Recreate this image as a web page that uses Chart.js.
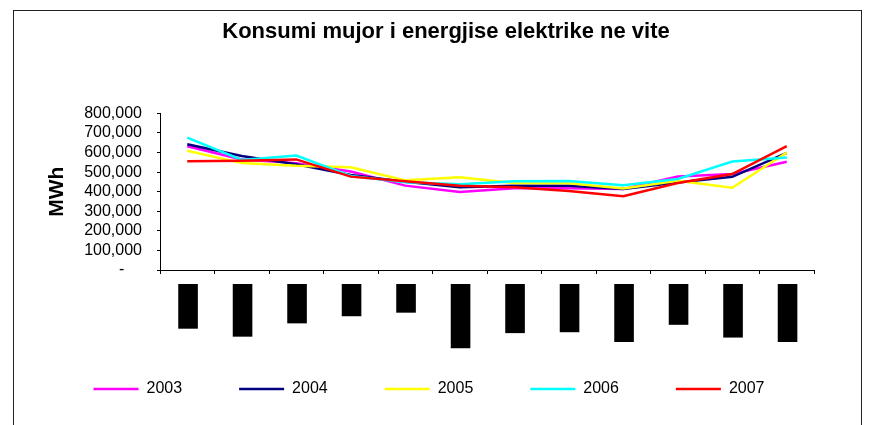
<!DOCTYPE html>
<html>
<head>
<meta charset="utf-8">
<script src="https://cdn.jsdelivr.net/npm/chart.js@4"></script>
<style>
  html, body { margin: 0; padding: 0; background: #fff; overflow: hidden; width: 871px; height: 425px; }
  #frame { position: absolute; left: 13px; top: 10px; width: 849px; height: 600px; border: 1px solid #222; box-sizing: border-box; pointer-events: none; }
  #c { position: absolute; left: 0; top: 0; }
</style>
</head>
<body>
<div id="frame"></div>
<canvas id="c" width="871" height="462" style="width:871px;height:462px"></canvas>
<script>
// ---- data ----
const titleText = 'Konsumi mujor i energjise elektrike ne vite';
const yTitle = 'MWh';
const months = ['Janar', 'Shkurt', 'Mars', 'Prill', 'Maj', 'Qershor', 'Korrik', 'Gusht', 'Shtator', 'Tetor', 'Nentor', 'Dhjetor'];
const years = ['2003', '2004', '2005', '2006', '2007'];
const v2003 = [632000, 565000, 546000, 503000, 431000, 399000, 418000, 418000, 414000, 478000, 490000, 553000];
const v2004 = [642000, 582000, 540000, 485000, 451000, 423000, 431000, 431000, 414000, 447000, 476000, 598000];
const v2005 = [609000, 546000, 532000, 525000, 458000, 474000, 444000, 443000, 416000, 456000, 420000, 600000];
const v2006 = [676000, 562000, 585000, 480000, 448000, 438000, 454000, 455000, 433000, 465000, 554000, 575000];
const v2007 = [555000, 558000, 565000, 477000, 454000, 431000, 423000, 404000, 377000, 444000, 490000, 633000];
const colors = ['#FF00FF', '#000080', '#FFFF00', '#00FFFF', '#FF0000'];
const yMin = 0, yMax = 800000, yStep = 100000;

const series = [v2003, v2004, v2005, v2006, v2007];

Chart.defaults.font.family = '"Liberation Sans", Arial, sans-serif';
Chart.defaults.color = '#000';

// move the legend row up/left to sit where the original legend sits
const legendShift = {
  id: 'legendShift',
  afterLayout(chart) {
    const lg = chart.legend;
    if (!lg) return;
    lg.top -= 55; lg.bottom -= 55;
    lg.left -= 17; lg.right -= 17;
  }
};

new Chart(document.getElementById('c'), {
  type: 'line',
  data: {
    labels: months,
    datasets: series.map((s, i) => ({
      label: years[i],
      data: s,
      borderColor: colors[i],
      backgroundColor: colors[i],
      borderWidth: 2.5,
      pointRadius: 0,
      pointHoverRadius: 0,
      tension: 0,
      fill: false,
      order: series.length - i,
      yAxisID: 'y'
    }))
  },
  plugins: [legendShift],
  options: {
    responsive: false,
    animation: false,
    devicePixelRatio: 1,
    layout: { padding: { left: 21, top: 0, right: 0, bottom: 0 } },
    plugins: {
      title: {
        display: true,
        text: titleText,
        font: { size: 22, weight: 'bold' },
        color: '#000',
        padding: { top: 19, bottom: 68 }
      },
      legend: {
        position: 'bottom',
        labels: {
          usePointStyle: true,
          pointStyle: 'line',
          pointStyleWidth: 45,
          padding: 57,
          font: { size: 16 },
          color: '#000',
          sort: (a, b) => a.datasetIndex - b.datasetIndex
        }
      },
      tooltip: { enabled: false }
    },
    scales: {
      x: {
        type: 'category',
        offset: true,
        grid: { display: true, drawOnChartArea: false, drawTicks: true, tickLength: 4, color: '#000', offset: true },
        border: { display: true, color: '#000', width: 1 },
        ticks: {
          autoSkip: false,
          minRotation: 90,
          maxRotation: 90,
          padding: 11,
          labelOffset: -8,
          color: '#000',
          font: { size: 16, weight: 'bold', lineHeight: 1.1 },
          showLabelBackdrop: true,
          backdropColor: '#000',
          backdropPadding: { top: 1, bottom: 1, left: 1, right: 1 }
        },
        afterFit: (s) => { s.height = 109; }
      },
      y: {
        type: 'linear',
        position: 'left',
        min: yMin,
        max: yMax,
        grid: { display: true, drawOnChartArea: false, drawTicks: true, tickLength: 3, color: '#000' },
        border: { display: true, color: '#000', width: 1 },
        ticks: {
          stepSize: yStep,
          autoSkip: false,
          padding: 15,
          color: '#000',
          font: { size: 16 },
          callback: (v) => v === 0 ? '-    ' : v.toLocaleString('en-US')
        },
        title: {
          display: true,
          text: yTitle,
          color: '#000',
          font: { size: 21, weight: 'bold' },
          padding: { top: 24, bottom: 0 }
        },
        afterFit: (s) => { s.width = 139; }
      },
      yr: {
        type: 'linear',
        position: 'right',
        display: true,
        grid: { display: false, drawTicks: false },
        border: { display: false },
        ticks: { display: false },
        afterFit: (s) => { s.width = 57; }
      }
    }
  }
});
</script>
</body>
</html>
